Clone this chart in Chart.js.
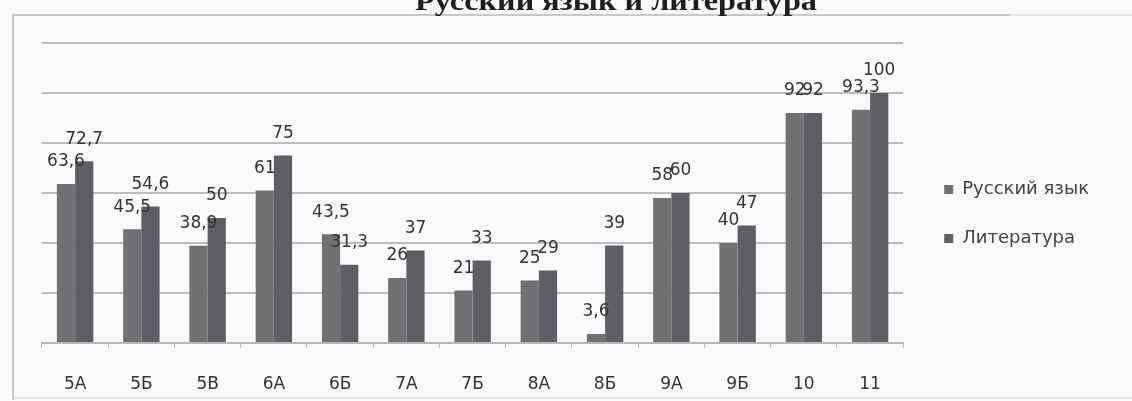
<!DOCTYPE html>
<html lang="ru">
<head>
<meta charset="utf-8">
<title>Русский язык и литература</title>
<script src="https://cdn.jsdelivr.net/npm/chart.js@4/dist/chart.umd.min.js"></script>
<style>
  html, body { margin: 0; padding: 0; background: #fbf9fb; }
  #wrap { width: 1132px; height: 401px; position: relative; }
</style>
</head>
<body>
<div id="wrap"><canvas id="chart" width="1132" height="401"></canvas></div>
<script>
  // Data
  const classes = ['5А', '5Б', '5В', '6А', '6Б', '7А', '7Б', '8А', '8Б', '9А', '9Б', '10', '11'];
  const russianValues = [63.6, 45.5, 38.9, 61, 43.5, 26, 21, 25, 3.6, 58, 40, 92, 93.3];
  const literatureValues = [72.7, 54.6, 50, 75, 31.3, 37, 33, 29, 39, 60, 47, 92, 100];
  const yTicks = [0, 20, 40, 60, 80, 100, 120];
  const chartTitle = 'Русский язык и литература';

  const fmt = v => String(v).replace('.', ',');

  // frame of the chart block (top, left and bottom lines of the scanned border)
  const framePlugin = {
    id: 'frame',
    beforeDraw(chart) {
      const ctx = chart.ctx;
      ctx.save();
      ctx.fillStyle = '#fbf9fb';
      ctx.fillRect(0, 0, chart.width, chart.height);
      ctx.lineWidth = 2;
      ctx.strokeStyle = '#e6e4e7';
      ctx.beginPath();
      ctx.moveTo(1010, 15);
      ctx.lineTo(1132, 15);
      ctx.moveTo(13, 398);
      ctx.lineTo(1132, 398);
      ctx.stroke();
      ctx.strokeStyle = '#c9c7ca';
      ctx.beginPath();
      ctx.moveTo(13, 400);
      ctx.lineTo(13, 15);
      ctx.lineTo(1010, 15);
      ctx.stroke();
      ctx.restore();
    }
  };

  // title, cut by the top edge like in the scan
  const titlePlugin = {
    id: 'cutTitle',
    afterDraw(chart) {
      const ctx = chart.ctx;
      ctx.save();
      ctx.font = 'bold 28px "Liberation Serif", serif';
      ctx.fillStyle = '#1e1e1e';
      ctx.textBaseline = 'alphabetic';
      const w = ctx.measureText(chartTitle).width;
      ctx.translate(415, 10);
      ctx.scale(402 / w, 1);
      ctx.fillText(chartTitle, 0, 0);
      ctx.restore();
    }
  };

  // value labels above each bar
  const valueLabels = {
    id: 'valueLabels',
    afterDatasetsDraw(chart) {
      const ctx = chart.ctx;
      ctx.save();
      ctx.font = '17px "DejaVu Sans", sans-serif';
      ctx.fillStyle = '#333333';
      ctx.textAlign = 'center';
      ctx.textBaseline = 'middle';
      chart.data.datasets.forEach((ds, i) => {
        chart.getDatasetMeta(i).data.forEach((bar, j) => {
          ctx.fillText(fmt(ds.data[j]), bar.x, bar.y - 22);
        });
      });
      ctx.restore();
    }
  };

  new Chart(document.getElementById('chart'), {
    type: 'bar',
    data: {
      labels: classes,
      datasets: [
        { label: 'Русский язык', data: russianValues, backgroundColor: '#717174' },
        { label: 'Литература', data: literatureValues, backgroundColor: '#5f5f63' }
      ]
    },
    options: {
      responsive: false,
      animation: false,
      layout: { padding: { left: 42, top: 27, right: 33, bottom: 0 } },
      datasets: { bar: { categoryPercentage: 0.55, barPercentage: 1.0 } },
      plugins: {
        // empty spacer above the plot only (the real title is drawn cut off by cutTitle)
        title: { display: true, text: '', fullSize: false, font: { size: 10, lineHeight: 1 }, padding: 3 },
        tooltip: { enabled: false },
        legend: {
          position: 'right',
          align: 'center',
          labels: {
            boxWidth: 9,
            boxHeight: 9,
            padding: 31,
            color: '#444444',
            font: { family: '"DejaVu Sans", sans-serif', size: 18 }
          }
        }
      },
      scales: {
        x: {
          grid: { display: true, drawOnChartArea: false, offset: true, tickLength: 5, color: '#b8b6ba' },
          border: { color: '#b8b6ba', width: 2 },
          ticks: { color: '#333333', padding: 26, font: { family: '"DejaVu Sans", sans-serif', size: 17 } },
          afterFit: s => { s.height = 58; }
        },
        y: {
          position: 'right',
          min: yTicks[0],
          max: yTicks[yTicks.length - 1],
          afterBuildTicks: s => { s.ticks = yTicks.map(v => ({ value: v })); },
          grid: { color: '#bdbbbf', lineWidth: 2, drawTicks: false },
          border: { display: false },
          ticks: { display: false },
          afterFit: s => { s.width = 10; }
        }
      }
    },
    plugins: [framePlugin, valueLabels, titlePlugin]
  });
</script>
</body>
</html>
